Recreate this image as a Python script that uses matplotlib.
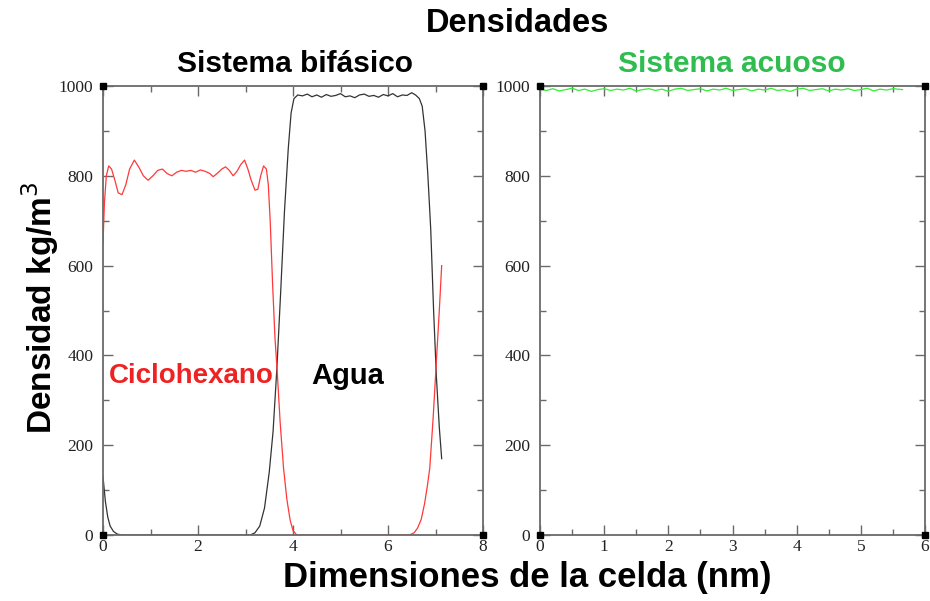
import matplotlib
matplotlib.use("Agg")
import matplotlib.pyplot as plt
from matplotlib.ticker import MultipleLocator

# ---- data ----
agua_x = [0.00, 0.05, 0.10, 0.15, 0.22, 0.30, 0.40, 3.10, 3.20, 3.30, 3.40, 3.50, 3.58,
          3.66, 3.74, 3.82, 3.90, 3.96, 4.02, 4.10,
          4.20, 4.30, 4.40, 4.50, 4.60, 4.70, 4.80, 4.90, 5.00, 5.10, 5.20, 5.30, 5.40,
          5.50, 5.60, 5.70, 5.80, 5.90, 6.00, 6.10, 6.20, 6.30, 6.40, 6.50, 6.58,
          6.66, 6.72, 6.78, 6.84, 6.90, 6.96, 7.02, 7.08, 7.13]
agua_y = [130, 75, 40, 20, 8, 2, 0, 0, 5, 20, 60, 140, 230,
          370, 540, 720, 860, 940, 972, 980,
          978, 982, 976, 980, 975, 981, 977, 979, 983, 976, 978, 974, 980,
          982, 977, 979, 975, 981, 978, 983, 976, 980, 979, 985, 980,
          972, 955, 900, 800, 680, 500, 350, 240, 170]

ciclo_x = [0.00, 0.03, 0.07, 0.12, 0.18, 0.25, 0.32, 0.40, 0.48, 0.56, 0.66, 0.75, 0.85,
           0.95, 1.05, 1.15, 1.25, 1.35, 1.45, 1.55, 1.65, 1.75, 1.85, 1.95, 2.05, 2.15,
           2.25, 2.32, 2.40, 2.50, 2.58, 2.66, 2.74, 2.82, 2.90, 2.98, 3.05, 3.12, 3.20,
           3.26, 3.32, 3.38, 3.44, 3.48, 3.52, 3.57, 3.62, 3.67, 3.73, 3.80, 3.87, 3.94,
           4.00, 4.08, 6.45, 6.55, 6.62, 6.70, 6.77, 6.83, 6.88, 6.95, 7.02, 7.08, 7.13]
ciclo_y = [650, 740, 800, 822, 815, 790, 762, 758, 780, 815, 835, 820, 800,
           790, 800, 812, 815, 805, 800, 808, 812, 810, 812, 808, 813, 810,
           805, 798, 805, 815, 820, 812, 800, 810, 825, 835, 815, 790, 768,
           770, 800, 822, 815, 780, 700, 560, 440, 360, 250, 150, 80, 33,
           10, 0, 0, 5, 15, 35, 70, 110, 150, 260, 390, 500, 600]

acuoso_x = [0.0, 0.1, 0.2, 0.3, 0.4, 0.5, 0.6, 0.7, 0.8, 0.9, 1.0, 1.1, 1.2, 1.3, 1.4,
            1.5, 1.6, 1.7, 1.8, 1.9, 2.0, 2.1, 2.2, 2.3, 2.4, 2.5, 2.6, 2.7, 2.8, 2.9,
            3.0, 3.1, 3.2, 3.3, 3.4, 3.5, 3.6, 3.7, 3.8, 3.9, 4.0, 4.1, 4.2, 4.3, 4.4,
            4.5, 4.6, 4.7, 4.8, 4.9, 5.0, 5.1, 5.2, 5.3, 5.4, 5.5, 5.65]
acuoso_y = [993, 990, 994, 989, 992, 995, 990, 993, 988, 992, 994, 990, 993, 991, 995,
            989, 992, 994, 990, 993, 988, 993, 995, 990, 992, 994, 989, 993, 991, 995,
            990, 992, 994, 989, 993, 991, 995, 990, 992, 988, 993, 995, 990, 992, 994,
            989, 993, 991, 994, 990, 992, 995, 989, 993, 991, 994, 992]

left_xticks = [0, 2, 4, 6, 8]
right_xticks = [0, 1, 2, 3, 4, 5, 6]
yticks = [0, 200, 400, 600, 800, 1000]

# ---- figure ----
fig = plt.figure(figsize=(9.30, 6.01), dpi=100)
W, H = 930, 601
def ax_at(x0, y0, x1, y1):
    return fig.add_axes([x0 / W, 1 - y1 / H, (x1 - x0) / W, (y1 - y0) / H])

axL = ax_at(103, 86, 483, 535)
axR = ax_at(540, 86, 925, 535)

spine_col = "#6a6a6a"
serif = "Liberation Serif"
sans = "Liberation Sans"

for ax, xt, xmax, minor in [(axL, left_xticks, 8, 1), (axR, right_xticks, 6, 0.5)]:
    ax.set_xlim(0, xmax)
    ax.set_ylim(0, 1000)
    ax.set_xticks(xt)
    ax.xaxis.set_minor_locator(MultipleLocator(minor))
    ax.set_yticks(yticks)
    ax.yaxis.set_minor_locator(MultipleLocator(100))
    ax.tick_params(which="both", direction="in", top=True, right=True,
                   color=spine_col, width=1.0, labelsize=12.5,
                   labelcolor="#222222")
    ax.tick_params(axis="x", which="major", pad=3)
    ax.tick_params(axis="y", which="major", pad=7)
    ax.tick_params(which="major", length=7)
    ax.tick_params(which="minor", length=4)
    for s in ax.spines.values():
        s.set_color(spine_col)
        s.set_linewidth(1.3)
    for lab in ax.get_xticklabels() + ax.get_yticklabels():
        lab.set_fontfamily(serif)
    # corner squares
    ax.plot([0, xmax, 0, xmax], [0, 0, 1000, 1000], "s", color="black",
            markersize=4, clip_on=False, zorder=5)

axL.plot(agua_x, agua_y, color="#333333", lw=0.9)
axL.plot(ciclo_x, ciclo_y, color="#ff3838", lw=0.9)
axR.plot(acuoso_x, acuoso_y, color="#33ee33", lw=0.9)

axL.text(0.12, 355, "Ciclohexano", color="#ee2222", fontsize=20, fontweight="bold",
         fontfamily=sans, va="center", ha="left")
axL.text(5.15, 355, "Agua", color="black", fontsize=21, fontweight="bold",
         fontfamily=sans, va="center", ha="center")

fig.text(518 / W, 1 - 24 / H, "Densidades", fontsize=23.5, fontweight="bold",
         fontfamily=sans, ha="center", va="center")
fig.text(295 / W, 1 - 64 / H, "Sistema bifásico", fontsize=21.5, fontweight="bold",
         fontfamily=sans, ha="center", va="center")
fig.text(732 / W, 1 - 64 / H, "Sistema acuoso", fontsize=21.5, fontweight="bold",
         fontfamily=sans, ha="center", va="center", color="#2ebd4e")
fig.text(527 / W, 1 - 577 / H, "Dimensiones de la celda (nm)", fontsize=25,
         fontweight="bold", fontfamily=sans, ha="center", va="center")
fig.text(40 / W, 1 - 308 / H, "Densidad kg/m$^3$", fontsize=24, fontweight="bold",
         fontfamily=sans, ha="center", va="center", rotation=90)

fig.savefig("out.png", dpi=100)
